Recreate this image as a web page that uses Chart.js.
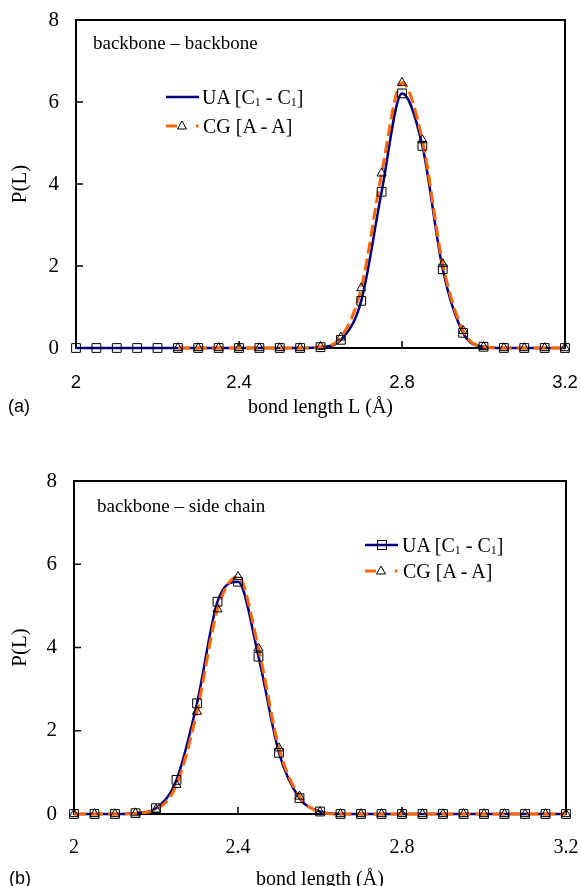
<!DOCTYPE html>
<html>
<head>
<meta charset="utf-8">
<script src="https://cdn.jsdelivr.net/npm/chart.js@4/dist/chart.umd.min.js"></script>
<style>
  html, body { margin:0; padding:0; background:#fff; width:581px; height:886px; overflow:hidden; }
  .panel { position:absolute; left:0; width:581px; }
  .txt { position:absolute; font-family:'Liberation Serif', 'Times New Roman', serif; color:#000; white-space:nowrap; line-height:24px; }
  .lab { position:absolute; font-family:'Liberation Sans', Arial, sans-serif; font-size:18px; color:#000; line-height:22px; }
  .sub { font-size:12px; vertical-align:-2px; }
  svg.s { position:absolute; overflow:visible; }
</style>
</head>
<body>
<div class="panel" style="top:0;height:430px;"><canvas id="cA" width="581" height="430"></canvas></div>
<div class="panel" style="top:443px;height:455px;"><canvas id="cB" width="581" height="455"></canvas></div>

<!-- panel labels and annotations -->
<div class="lab" style="left:8px;top:395px;">(a)</div>
<div class="lab" style="left:9px;top:867px;">(b)</div>
<div class="txt" style="left:93px;top:31px;font-size:19px;">backbone – backbone</div>
<div class="txt" style="left:97px;top:494px;font-size:19px;">backbone – side chain</div>

<!-- legend samples -->
<svg class="s" style="left:0;top:0;" width="581" height="886">
  <line x1="166" y1="97" x2="199" y2="97" stroke="#000080" stroke-width="2.5"/>
  <line x1="166" y1="126" x2="177" y2="126" stroke="#FF6600" stroke-width="3"/>
  <polygon points="182,121 186.5,129 177.5,129" fill="none" stroke="#000" stroke-width="1"/>
  <line x1="196" y1="126" x2="198.5" y2="126" stroke="#FF6600" stroke-width="3"/>

  <line x1="365" y1="545" x2="398" y2="545" stroke="#000080" stroke-width="2.5"/>
  <rect x="377.5" y="540.5" width="9" height="9" fill="none" stroke="#000" stroke-width="1"/>
  <line x1="365" y1="571" x2="376" y2="571" stroke="#FF6600" stroke-width="3"/>
  <polygon points="381,566 385.5,574 376.5,574" fill="none" stroke="#000" stroke-width="1"/>
  <line x1="395" y1="571" x2="397.5" y2="571" stroke="#FF6600" stroke-width="3"/>
</svg>
<div class="txt" style="left:202px;top:85px;font-size:20px;">UA [C<span class="sub">1</span> - C<span class="sub">1</span>]</div>
<div class="txt" style="left:203px;top:114px;font-size:20px;">CG [A - A]</div>
<div class="txt" style="left:402px;top:533px;font-size:20px;">UA [C<span class="sub">1</span> - C<span class="sub">1</span>]</div>
<div class="txt" style="left:403px;top:559px;font-size:20px;">CG [A - A]</div>

<script>
// ---------------- data ----------------
const bondLength = [2.00, 2.05, 2.10, 2.15, 2.20, 2.25, 2.30, 2.35, 2.40, 2.45, 2.50, 2.55, 2.60,
                    2.65, 2.70, 2.75, 2.80, 2.85, 2.90, 2.95, 3.00, 3.05, 3.10, 3.15, 3.20];

// (a) backbone - backbone
const uaBackbone = [0, 0, 0, 0, 0, 0, 0, 0, 0, 0, 0, 0, 0.02,
                    0.20, 1.15, 3.81, 6.21, 4.93, 1.92, 0.37, 0.03, 0, 0, 0, 0];
const cgBackbone = [null, null, null, null, null, 0, 0, 0, 0, 0, 0, 0, 0.03,
                    0.26, 1.46, 4.26, 6.47, 5.07, 2.05, 0.42, 0.03, 0, 0, 0, 0];

// (b) backbone - side chain
const uaSideChain = [0, 0, 0, 0.02, 0.14, 0.82, 2.66, 5.10, 5.58, 3.78, 1.47, 0.38, 0.06,
                     0, 0, 0, 0, 0, 0, 0, 0, 0, 0, 0, 0];
const cgSideChain = [0, 0, 0, 0.02, 0.11, 0.70, 2.46, 4.92, 5.70, 3.98, 1.58, 0.42, 0.05,
                     0, 0, 0, 0, 0, 0, 0, 0, 0, 0, 0, 0];

const xTickValues = [2, 2.4, 2.8, 3.2];
const xTickLabels = ['2', '2.4', '2.8', '3.2'];
const yTickValues = [0, 2, 4, 6, 8];
const yTickLabels = ['0', '2', '4', '6', '8'];

const seriesNames = ['UA [C1 - C1]', 'CG [A - A]'];
const yTitle = 'P(L)';

// ---------------- helpers ----------------
const NAVY = '#000080', ORANGE = '#FF6600';
const pts = (ys) => bondLength.map((x, i) => ({x: x, y: ys[i]}));

const framePlugin = {
  id: 'frame',
  beforeDatasetsDraw(chart) {
    const {ctx, chartArea: a, scales: {x, y}} = chart;
    ctx.save();
    ctx.strokeStyle = '#000';
    ctx.lineWidth = 2;
    ctx.strokeRect(a.left, a.top, a.right - a.left, a.bottom - a.top);
    ctx.lineWidth = 1.5;
    ctx.beginPath();
    xTickValues.forEach(v => {
      const px = x.getPixelForValue(v);
      if (px > a.left + 2 && px < a.right - 2) { ctx.moveTo(px, a.bottom); ctx.lineTo(px, a.bottom - 7); }
    });
    yTickValues.forEach(v => {
      const py = y.getPixelForValue(v);
      if (py > a.top + 2 && py < a.bottom - 2) { ctx.moveTo(a.left, py); ctx.lineTo(a.left + 7, py); }
    });
    ctx.stroke();
    ctx.restore();
  }
};

function noPad(s) { s.paddingTop = 0; s.paddingBottom = 0; s.paddingLeft = 0; s.paddingRight = 0; }

function makeChart(id, ua, cg, opts) {
  const datasets = [
    {label: seriesNames[0] + ' markers', data: pts(ua), showLine: false, pointStyle: 'rect',
     pointRadius: 6.2, pointBorderColor: '#000', pointBackgroundColor: 'rgba(0,0,0,0)', pointBorderWidth: 1, clip: false},
    {label: seriesNames[1] + ' markers', data: pts(cg), showLine: false, pointStyle: 'triangle',
     pointRadius: 5.3, pointBorderColor: '#000', pointBackgroundColor: 'rgba(0,0,0,0)', pointBorderWidth: 1, clip: false},
    {label: seriesNames[1], data: pts(cg), showLine: true, borderColor: ORANGE, borderWidth: 3, borderDash: [12, 5],
     pointRadius: 0, cubicInterpolationMode: 'monotone', spanGaps: false, fill: false, clip: false},
    {label: seriesNames[0], data: pts(ua), showLine: true, borderColor: NAVY, borderWidth: 2.5,
     pointRadius: 0, cubicInterpolationMode: 'monotone', fill: false, clip: false}
  ];
  return new Chart(document.getElementById(id), {
    type: 'scatter',
    data: {datasets},
    plugins: [framePlugin],
    options: {
      responsive: false,
      animation: false,
      events: [],
      layout: {padding: {top: opts.top, right: opts.right, left: 0, bottom: 0}},
      plugins: {legend: {display: false}, tooltip: {enabled: false}},
      scales: {
        x: {
          type: 'linear', min: 2, max: 3.2,
          grid: {display: false, drawTicks: false},
          border: {display: false},
          afterBuildTicks: s => { s.ticks = xTickValues.map(v => ({value: v})); },
          afterFit: s => { s.height = opts.xHeight; noPad(s); },
          ticks: {
            padding: opts.xTickPad, color: '#000', maxRotation: 0, autoSkip: false,
            font: opts.xTickFont,
            callback: (v) => xTickLabels[xTickValues.indexOf(v)]
          },
          title: {display: true, text: opts.xTitle, color: '#000',
                  font: {family: 'Liberation Serif', size: 20}, padding: {top: 0, bottom: opts.xTitlePad}}
        },
        y: {
          min: 0, max: 8,
          grid: {display: false, drawTicks: false},
          border: {display: false},
          afterBuildTicks: s => { s.ticks = yTickValues.map(v => ({value: v})); },
          afterFit: s => { s.width = opts.yWidth; noPad(s); },
          ticks: {
            padding: 17, color: '#000',
            font: {family: 'Liberation Serif', size: 21},
            callback: (v) => yTickLabels[yTickValues.indexOf(v)]
          },
          title: {display: true, text: yTitle, color: '#000',
                  font: {family: 'Liberation Serif', size: 21}, padding: {top: 8, bottom: 0}}
        }
      }
    }
  });
}

makeChart('cA', uaBackbone, cgBackbone, {
  top: 20, right: 16, yWidth: 76, xHeight: 82, xTickPad: 24,
  xTickFont: {family: 'Liberation Sans', size: 18.5},
  xTitle: 'bond length L (Å)', xTitlePad: 10
});
makeChart('cB', uaSideChain, cgSideChain, {
  top: 38, right: 15, yWidth: 74, xHeight: 84, xTickPad: 22,
  xTickFont: {family: 'Liberation Serif', size: 20},
  xTitle: 'bond length (Å)', xTitlePad: 6
});
</script>
</body>
</html>
